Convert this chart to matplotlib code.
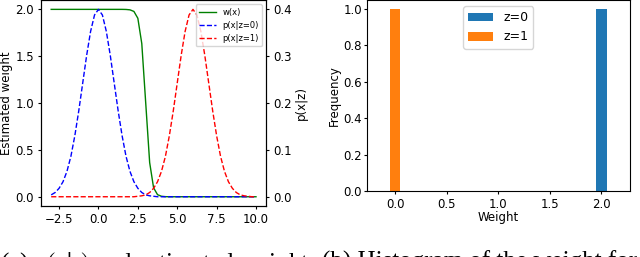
import numpy as np
import matplotlib
matplotlib.use("Agg")
import matplotlib.pyplot as plt

# sample grid of the left panel
x = np.arange(-3, 10.01, 0.25)

# estimated weight w(x)
w_x = [2.0] * 19 + [1.999, 1.995, 1.978, 1.905, 1.635, 1.0, 0.365, 0.095,
                    0.022, 0.005, 0.001] + [0.0] * 23

# p(x|z=0)
p_z0 = [0.004, 0.009, 0.018, 0.032, 0.054, 0.086, 0.130, 0.183, 0.242,
        0.301, 0.352, 0.387, 0.399, 0.387, 0.352, 0.301, 0.242, 0.183,
        0.130, 0.086, 0.054, 0.032, 0.018, 0.009, 0.004, 0.002, 0.001] + [0.0] * 26

# p(x|z=1)
p_z1 = [0.0] * 22 + [0.001, 0.002, 0.004, 0.009, 0.018, 0.032, 0.054, 0.086,
                     0.130, 0.183, 0.242, 0.301, 0.352, 0.387, 0.399, 0.387,
                     0.352, 0.301, 0.242, 0.183, 0.130, 0.086, 0.054, 0.032,
                     0.018, 0.009, 0.004, 0.002, 0.001] + [0.0] * 2

# histogram of weights
hist_labels = ["z=0", "z=1"]
hist_pos = [2.0, 0.0]
hist_freq = [1.0, 1.0]

plt.rcParams["mathtext.fontset"] = "stix"
fig = plt.figure(figsize=(6.4, 2.57), dpi=100)

# (a) p(x|z) and estimated weight
ax1 = fig.add_axes([0.064, 0.198, 0.352, 0.802])
ax2 = ax1.twinx()
l1, = ax1.plot(x, w_x, color="g", lw=1, label="w(x)")
l2, = ax2.plot(x, p_z0, "b--", lw=1, label="p(x|z=0)")
l3, = ax2.plot(x, p_z1, "r--", lw=1, label="p(x|z=1)")
ax1.set_ylabel("Estimated weight", fontsize=8.5, labelpad=2)
ax2.set_ylabel("p(x|z)", fontsize=8.5, labelpad=2)
ax1.set_xticks([-2.5, 0.0, 2.5, 5.0, 7.5, 10.0])
ax1.set_yticks([0.0, 0.5, 1.0, 1.5, 2.0])
ax2.set_yticks([0.0, 0.1, 0.2, 0.3, 0.4])
for a in (ax1, ax2):
    a.tick_params(labelsize=8.5, length=2.5, pad=2.5)
ax2.legend([l1, l2, l3], [l.get_label() for l in (l1, l2, l3)],
           loc="upper right", fontsize=6)

# (b) histogram of the weight
ax3 = fig.add_axes([0.573, 0.257, 0.411, 0.743])
colors = ["tab:blue", "tab:orange"]
for lab, pos, f, c in zip(hist_labels, hist_pos, hist_freq, colors):
    ax3.bar(pos, f, width=0.105, color=c, label=lab)
ax3.set_xlim(-0.274, 2.274)
ax3.set_ylim(0, 1.05)
ax3.set_xticks([0.0, 0.5, 1.0, 1.5, 2.0])
ax3.set_yticks([0.0, 0.2, 0.4, 0.6, 0.8, 1.0])
ax3.tick_params(axis="x", labelsize=8.5, length=2.5, pad=2.5)
ax3.tick_params(axis="y", labelsize=8.5, length=2, pad=1.5)
ax3.set_xlabel("Weight", fontsize=8.5, labelpad=0)
ax3.set_ylabel("Frequency", fontsize=8.5, labelpad=2)
ax3.legend(loc="upper center", fontsize=9)

# captions (cut by the bottom edge, as in the source)
fig.text(0.0, 0.025, "(a) $p(x|z)$ and estimated weight.", fontsize=18,
         family="Liberation Serif", va="top", ha="left")
fig.text(0.503, 0.025, "(b) Histogram of the weight for", fontsize=18,
         family="Liberation Serif", va="top", ha="left")

fig.savefig("out.png", dpi=100)
